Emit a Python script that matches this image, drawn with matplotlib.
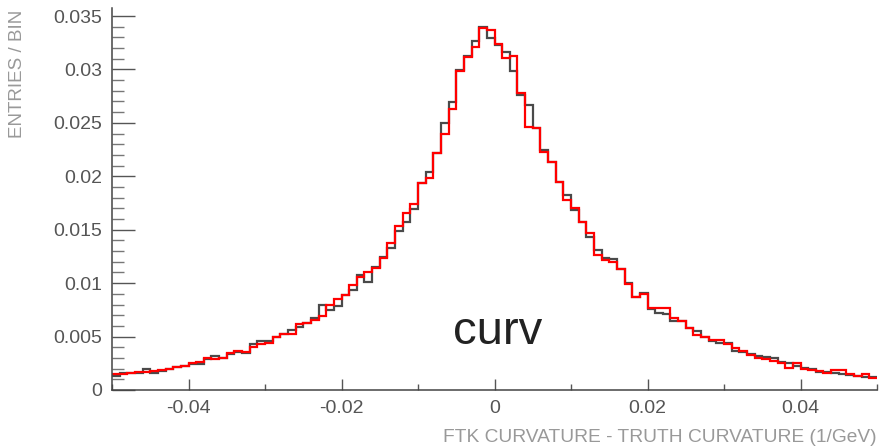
import numpy as np
import matplotlib
matplotlib.use("Agg")
import matplotlib.pyplot as plt
from matplotlib.ticker import MultipleLocator, FuncFormatter

plt.rcParams['font.family'] = ['Liberation Sans', 'DejaVu Sans']

# 100 bins from -0.05 to 0.05, entries/bin in units of 1e-3
n_bins = 100
x_min, x_max = -0.05, 0.05

# dark grey histogram
curv_grey = [
    1.34, 1.56, 1.62, 1.62, 1.93, 1.56, 1.81, 1.93, 2.12, 2.25, 2.40, 2.43, 2.87, 3.18, 2.96, 3.34, 3.59,
    3.49, 4.30, 4.62, 4.62, 4.99, 5.21, 5.61, 5.93, 6.24, 6.77, 7.95, 7.49, 7.86, 8.89, 9.36, 10.76, 10.14,
    11.54, 12.48, 13.26, 14.91, 15.75, 16.94, 19.34, 20.37, 22.21, 24.96, 26.98, 29.95, 31.26, 32.69, 34.00, 32.91,
    32.29, 31.60, 29.88, 27.61, 26.67, 24.49, 22.46, 21.37, 19.49, 18.25, 16.84, 15.75, 14.29, 13.10, 12.32, 12.23, 11.29,
    10.04, 8.73, 9.05, 7.55, 7.24, 7.11, 6.46, 6.49, 5.83, 5.52, 4.99, 4.59, 4.43, 4.43, 3.65, 3.59,
    3.37, 3.21, 3.12, 2.96, 2.59, 2.50, 2.25, 2.09, 1.97, 1.72, 1.72, 1.62, 1.47, 1.40, 1.31, 1.25, 1.25,
]

# red histogram
curv_red = [
    1.47, 1.47, 1.56, 1.65, 1.72, 1.81, 1.87, 1.97, 2.18, 2.28, 2.50, 2.59, 3.03, 2.87, 2.96, 3.43, 3.65,
    3.59, 4.06, 4.30, 4.37, 4.99, 5.21, 5.24, 6.15, 6.24, 6.55, 6.92, 7.95, 8.52, 8.89, 9.83, 10.61, 11.01,
    11.39, 12.32, 13.79, 15.35, 16.53, 17.41, 19.34, 19.87, 22.21, 23.93, 26.27, 29.88, 31.19, 32.07, 33.85, 33.69,
    32.38, 31.04, 31.26, 27.77, 24.64, 24.49, 22.30, 21.37, 19.49, 17.78, 17.00, 15.75, 14.66, 12.63, 12.17, 12.00, 11.29,
    9.89, 8.73, 8.95, 7.70, 7.64, 7.64, 6.71, 6.49, 5.83, 5.15, 4.99, 4.68, 4.68, 4.30, 3.90, 3.68,
    3.28, 2.96, 2.87, 2.71, 2.56, 2.09, 2.50, 1.97, 1.87, 1.81, 1.56, 1.87, 1.87, 1.47, 1.34, 1.47, 1.09,
]

edges = np.linspace(x_min, x_max, n_bins + 1)
grey = np.array(curv_grey) * 1e-3
red = np.array(curv_red) * 1e-3

fig = plt.figure(figsize=(8.8, 4.46), dpi=100)
ax = fig.add_axes([112 / 880, 1 - 390 / 446, (877 - 112) / 880, (390 - 8) / 446])

ax.stairs(grey, edges, baseline=None, color='#4a4a4a', lw=1.6)
ax.stairs(red, edges, baseline=None, color='#ff0000', lw=1.6)

ax.set_xlim(x_min, x_max)
ax.set_ylim(0, 0.03575)

for s in ['top', 'right']:
    ax.spines[s].set_visible(False)
for s in ['left', 'bottom']:
    ax.spines[s].set_color('#444444')
    ax.spines[s].set_linewidth(1.1)

ax.xaxis.set_major_locator(MultipleLocator(0.02))
ax.xaxis.set_minor_locator(MultipleLocator(0.01))
ax.yaxis.set_major_locator(MultipleLocator(0.005))
ax.yaxis.set_minor_locator(MultipleLocator(0.001))
fmt = FuncFormatter(lambda v, p: '0' if abs(v) < 1e-12 else '%g' % round(v, 4))
ax.xaxis.set_major_formatter(fmt)
ax.yaxis.set_major_formatter(fmt)

ax.tick_params(axis='y', which='major', direction='in', length=16.5, width=1, color='#555555',
               labelsize=14, labelcolor='#555555', pad=7)
ax.tick_params(axis='y', which='minor', direction='in', length=8.5, width=1, color='#777777')
ax.tick_params(axis='x', which='major', direction='in', length=8, width=1, color='#555555',
               labelsize=14, labelcolor='#555555', pad=7)
ax.tick_params(axis='x', which='minor', direction='in', length=4, width=1, color='#555555')

fig.text(18 / 880, 1 - 10 / 446, 'ENTRIES / BIN', rotation=90, ha='center', va='top',
         fontsize=13.5, color='#999999')
fig.text(877 / 880, 1 - 437 / 446, 'FTK CURVATURE - TRUTH CURVATURE (1/GeV)', ha='right', va='center',
         fontsize=13.8, color='#999999')
fig.text(498 / 880, 1 - 332 / 446, 'curv', ha='center', va='center', fontsize=34, color='#222222')

fig.savefig('out.png', dpi=100)
